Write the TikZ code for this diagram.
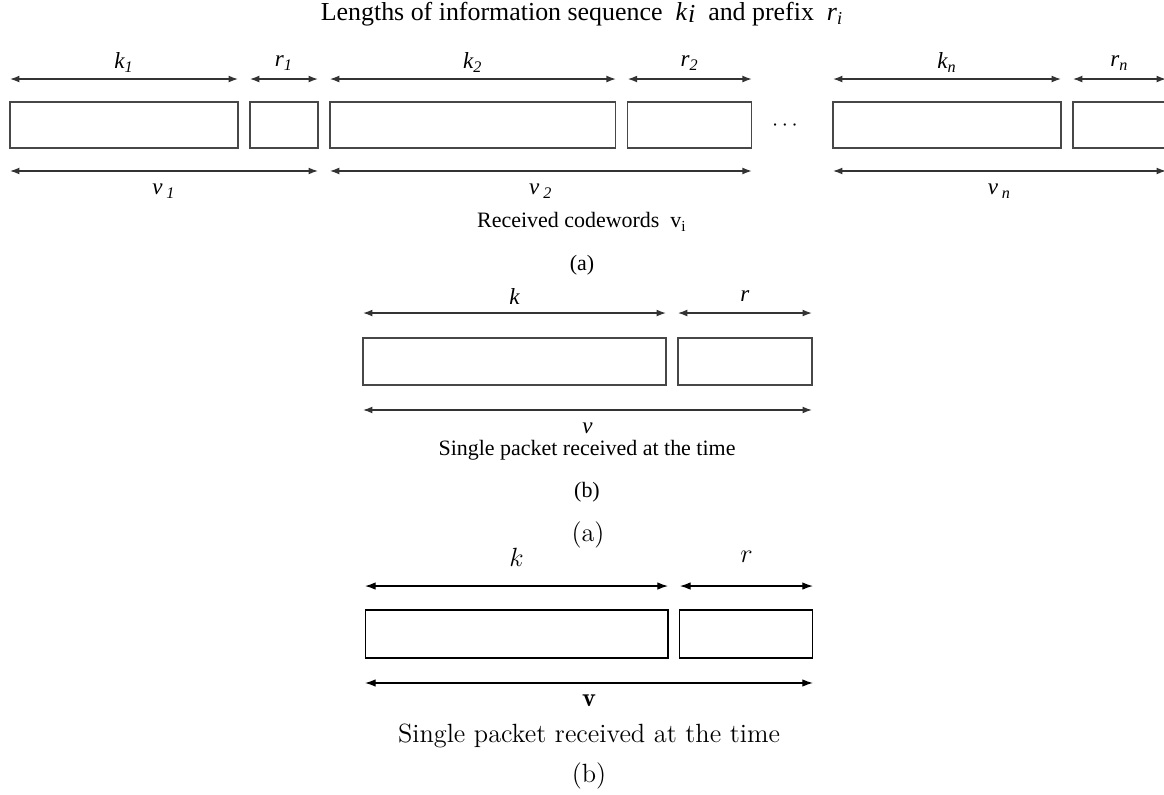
\documentclass[tikz,border=0pt]{standalone}
\usepackage{fontspec}
\newfontfamily\figfont{Liberation Serif}
\usetikzlibrary{arrows.meta,positioning}

\begin{document}
\begin{tikzpicture}[
    x=0.016cm, y=-0.016cm,
    font=\figfont\fontsize{10}{12}\selectfont,
    >={Latex[length=1.5mm,width=1.1mm]},
    seg/.style={rectangle, draw=black!72, line width=0.55pt, minimum height=7.36mm,
      inner sep=0pt, outer sep=0pt},
    dim/.style={<->, line width=0.55pt, draw=black!80},
    klab/.style={midway, yshift=2.6mm, font=\figfont\itshape\fontsize{10.5}{12}\selectfont},
    vlab/.style={midway, yshift=-3.2mm, font=\figfont\itshape\fontsize{10.5}{12}\selectfont},
    lmseg/.style={rectangle, draw=black, line width=0.5pt, minimum height=7.68mm,
      inner sep=0pt, outer sep=0pt},
    lmdim/.style={<->, line width=0.5pt, >={Latex[length=1.7mm,width=1.2mm]}},
    lmtext/.style={font=\normalfont\fontsize{12}{14}\selectfont}
  ]
  \useasboundingbox (0,0) rectangle (1164,794);
  \clip (0,0) rectangle (1164,794);

  % (a) several codewords
  \node[font=\figfont\fontsize{11.8}{14}\selectfont] (title) at (582,14)
    {Lengths of information sequence \ {\itshape k\kern0.5pt\raisebox{-0.2ex}{i}} \ and prefix \ {\itshape r\textsubscript{i}}};
  \node[seg, minimum width=36.48mm] (k1) at (124,125) {};
  \node[seg, minimum width=10.88mm, right=1.92mm of k1] (r1) {};
  \node[seg, minimum width=45.76mm, right=1.92mm of r1] (k2) {};
  \node[seg, minimum width=19.84mm, right=1.92mm of k2] (r2) {};
  \node (dots) at (785,126) {$\cdots$};
  \node[seg, minimum width=36.48mm] (kn) at (947,125) {};
  \node[seg, minimum width=14.88mm, right=1.92mm of kn] (rn) {};

  \draw[dim] ([yshift=3.68mm]k1.north west) -- ([yshift=3.68mm]k1.north east) node[klab] {k\textsubscript{1}};
  \draw[dim] ([yshift=3.68mm]r1.north west) -- ([yshift=3.68mm]r1.north east) node[klab] {r\textsubscript{1}};
  \draw[dim] ([yshift=3.68mm]k2.north west) -- ([yshift=3.68mm]k2.north east) node[klab] {k\textsubscript{2}};
  \draw[dim] ([yshift=3.68mm]r2.north west) -- ([yshift=3.68mm]r2.north east) node[klab] {r\textsubscript{2}};
  \draw[dim] ([yshift=3.68mm]kn.north west) -- ([yshift=3.68mm]kn.north east) node[klab] {k\textsubscript{n}};
  \draw[dim] ([yshift=3.68mm]rn.north west) -- ([yshift=3.68mm]rn.north east) node[klab] {r\textsubscript{n}};

  \draw[dim] ([yshift=-3.68mm]k1.south west) -- ([yshift=-3.68mm]r1.south east) node[vlab] {v\,\textsubscript{1}};
  \draw[dim] ([yshift=-3.68mm]k2.south west) -- ([yshift=-3.68mm]r2.south east) node[vlab] {v\,\textsubscript{2}};
  \draw[dim] ([yshift=-3.68mm]kn.south west) -- ([yshift=-3.68mm]rn.south east) node[vlab] {v\,\textsubscript{n}};

  \node (recv) at (582,222) {Received codewords \ v\textsubscript{i}};
  \node (capa) at (582,265) {(a)};

  % (b) one packet
  \node[seg, minimum width=48.48mm, minimum height=7.52mm] (k) at (514.5,361.5) {};
  \node[seg, minimum width=21.44mm, minimum height=7.52mm, right=1.92mm of k] (r) {};
  \draw[dim] ([yshift=4mm]k.north west) -- ([yshift=4mm]k.north east) node[klab, yshift=0.1mm] {k};
  \draw[dim] ([yshift=4mm]r.north west) -- ([yshift=4mm]r.north east) node[klab, yshift=0.1mm] {r};
  \draw[dim] ([yshift=-4mm]k.south west) -- ([yshift=-4mm]r.south east) node[vlab, yshift=0.3mm] {v};
  \node (single) at (587,450) {Single packet received at the time};
  \node (capb) at (587,492) {(b)};

  % LaTeX version
  \node[lmtext] (capa2) at (588,535) {(a)};
  \node[lmseg, minimum width=48.48mm] (kk) at (516.5,634) {};
  \node[lmseg, minimum width=21.28mm, right=1.92mm of kk] (rr) {};
  \draw[lmdim] ([yshift=3.84mm]kk.north west) -- ([yshift=3.84mm]kk.north east)
    node[midway, yshift=4.6mm, lmtext] {$k$};
  \draw[lmdim] ([yshift=3.84mm]rr.north west) -- ([yshift=3.84mm]rr.north east)
    node[midway, yshift=4.6mm, lmtext] {$r$};
  \draw[lmdim] ([yshift=-4mm]kk.south west) -- ([yshift=-4mm]rr.south east)
    node[midway, yshift=-2.9mm, lmtext] {$\mathbf{v}$};
  \node[lmtext] (single2) at (589,736) {Single packet received at the time};
  \node[lmtext] (capb2) at (589,776) {(b)};
\end{tikzpicture}
\end{document}
